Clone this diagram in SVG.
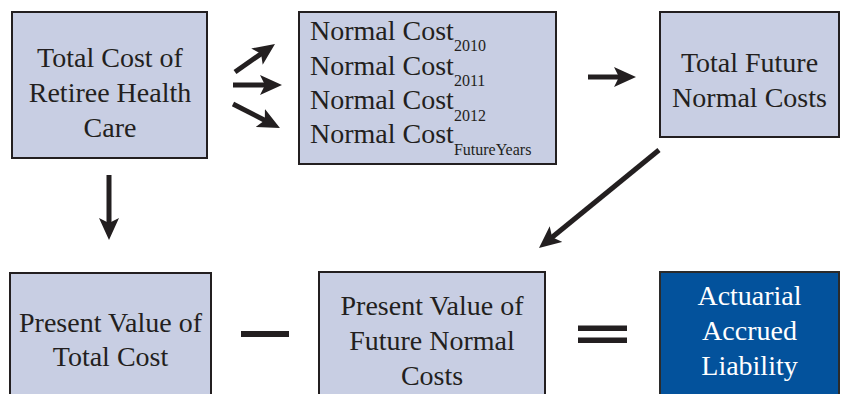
<svg xmlns="http://www.w3.org/2000/svg" width="846" height="394" viewBox="0 0 846 394">
<style>
.box{fill:#c8cee3;stroke:#231f20;stroke-width:2}
.blue{fill:#03529c;stroke:#2b2b2b;stroke-width:2}
.t{font-family:"Liberation Serif","Times New Roman",serif;font-size:28px;fill:#231f20;text-anchor:middle}
.tl{font-family:"Liberation Serif","Times New Roman",serif;font-size:28px;fill:#231f20}
.w{fill:#ffffff}
.sub{font-size:16px}
.arr{stroke:#231f20;stroke-width:5;fill:none;marker-end:url(#ah)}
.bar{fill:#231f20}
</style>
<defs>
<marker id="ah" markerUnits="userSpaceOnUse" viewBox="0 0 22 20" markerWidth="22" markerHeight="20" refX="7" refY="10" orient="auto">
<path d="M0,0 L22,10 L0,20 L5,10 z" fill="#231f20"/>
</marker>
</defs>
<g id="total-cost">
<rect class="box" x="12" y="12" width="195" height="146"/>
<text class="t" x="110" y="67">Total Cost of</text>
<text class="t" x="110" y="102">Retiree Health</text>
<text class="t" x="110" y="137">Care</text>
</g>
<g id="normal-costs">
<rect class="box" x="299" y="12" width="257" height="152"/>
<text class="tl" x="310" y="39.5">Normal Cost<tspan class="sub" dy="11.5">2010</tspan></text>
<text class="tl" x="310" y="74.5">Normal Cost<tspan class="sub" dy="11.5">2011</tspan></text>
<text class="tl" x="310" y="109">Normal Cost<tspan class="sub" dy="11.5">2012</tspan></text>
<text class="tl" x="310" y="143">Normal Cost<tspan class="sub" dy="11.5">FutureYears</tspan></text>
</g>
<g id="total-future">
<rect class="box" x="660" y="12" width="179" height="125"/>
<text class="t" x="749.5" y="72">Total Future</text>
<text class="t" x="749.5" y="106.5">Normal Costs</text>
</g>
<g id="pv-total">
<rect class="box" x="10" y="273" width="201" height="130"/>
<text class="t" x="110.5" y="332">Present Value of</text>
<text class="t" x="110.5" y="366">Total Cost</text>
</g>
<g id="pv-future">
<rect class="box" x="319" y="272" width="226" height="130"/>
<text class="t" x="432" y="315">Present Value of</text>
<text class="t" x="432" y="350">Future Normal</text>
<text class="t" x="432" y="385">Costs</text>
</g>
<g id="aal">
<rect class="blue" x="660" y="272" width="179" height="130"/>
<text class="t w" x="749.5" y="305">Actuarial</text>
<text class="t w" x="749.5" y="340">Accrued</text>
<text class="t w" x="749.5" y="375">Liability</text>
</g>
<g id="connectors">
<line class="arr" x1="235" y1="72" x2="262.7" y2="52.6"/>
<line class="arr" x1="233" y1="85" x2="267" y2="85"/>
<line class="arr" x1="233" y1="104" x2="266.6" y2="121.2"/>
<line class="arr" x1="588" y1="77" x2="621" y2="77"/>
<line class="arr" x1="109" y1="175" x2="109" y2="225"/>
<line class="arr" x1="659" y1="150" x2="550.6" y2="238.5"/>
</g>
<g id="operators">
<rect class="bar" x="241" y="331" width="48" height="6"/>
<rect class="bar" x="578" y="325.5" width="49" height="5.5"/>
<rect class="bar" x="578" y="337.5" width="49" height="5.5"/>
</g>
</svg>
